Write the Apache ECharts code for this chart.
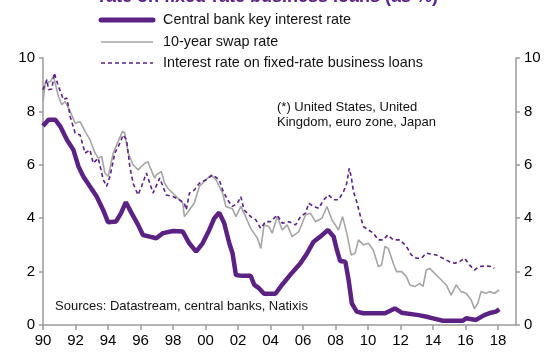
<!DOCTYPE html>
<html>
<head>
<meta charset="utf-8">
<script src="https://cdn.jsdelivr.net/npm/echarts@6/dist/echarts.min.js"></script>
<style>
html,body{margin:0;padding:0;background:#fff;}
#c{width:550px;height:353px;}
</style>
</head>
<body>
<div id="c"></div>
<script>
// Central bank key interest rate
const cbYears = [1990.0,1990.34,1990.75,1991.06,1991.47,1991.87,1992.18,1992.48,1992.89,1993.3,1993.7,1994.0,1994.5,1994.8,1995.1,1995.45,1995.85,1996.15,1996.56,1996.97,1997.38,1998.0,1998.6,1999.0,1999.42,1999.82,2000.23,2000.54,2000.84,2001.15,2001.46,2001.66,2001.87,2002.27,2002.78,2003.0,2003.3,2003.6,2004.3,2004.7,2005.2,2005.84,2006.25,2006.65,2007.06,2007.53,2007.88,2008.08,2008.28,2008.6,2008.8,2009.0,2009.3,2009.7,2011.04,2011.65,2012.06,2013.1,2013.6,2014.0,2014.6,2015.83,2016.03,2016.64,2017.15,2017.56,2017.87,2018.07];
const cbValues = [7.45,7.69,7.69,7.44,6.94,6.56,5.94,5.56,5.19,4.81,4.31,3.85,3.88,4.19,4.6,4.19,3.75,3.37,3.31,3.25,3.44,3.52,3.5,3.06,2.75,3.06,3.56,4.0,4.21,3.81,3.06,2.69,1.87,1.84,1.84,1.5,1.37,1.17,1.17,1.5,1.87,2.31,2.69,3.12,3.31,3.56,3.31,2.81,2.4,2.37,1.69,0.81,0.5,0.44,0.44,0.62,0.46,0.37,0.31,0.25,0.16,0.16,0.25,0.19,0.37,0.46,0.5,0.59];

// 10-year swap rate
const swapYears = [1990.0,1990.14,1990.45,1990.65,1990.95,1991.16,1991.36,1991.67,1991.98,1992.28,1992.59,1992.89,1993.2,1993.4,1993.61,1993.81,1994.01,1994.32,1994.62,1994.89,1995.03,1995.24,1995.54,1995.85,1996.26,1996.46,1996.56,1996.87,1996.97,1997.28,1997.48,1997.68,1998.2,1998.6,1998.7,1999.0,1999.3,1999.62,2000.03,2000.34,2000.64,2001.05,2001.25,2001.66,2001.87,2002.17,2002.37,2002.78,2003.19,2003.4,2003.6,2003.9,2004.1,2004.41,2004.72,2005.02,2005.33,2005.74,2006.15,2006.45,2006.76,2007.16,2007.47,2007.77,2008.18,2008.43,2008.69,2008.96,2009.2,2009.41,2009.71,2010.02,2010.32,2010.63,2010.83,2011.04,2011.24,2011.55,2011.75,2012.06,2012.36,2012.57,2012.87,2013.18,2013.38,2013.58,2013.79,2013.99,2014.4,2014.81,2015.11,2015.42,2015.72,2016.03,2016.34,2016.54,2016.75,2016.95,2017.26,2017.46,2017.77,2018.07];
const swapValues = [8.37,9.06,9.12,9.31,8.56,8.25,8.37,8.0,7.56,7.62,7.25,6.94,6.44,6.25,6.31,5.69,5.56,6.44,6.87,7.25,7.19,6.44,6.0,5.81,6.06,6.12,5.94,5.5,5.62,5.75,5.31,5.12,4.81,4.56,4.06,4.31,4.56,5.19,5.44,5.62,5.44,4.94,4.44,4.35,4.06,4.44,4.19,3.62,3.25,2.87,3.75,3.69,3.44,4.06,3.56,3.75,3.31,3.5,4.12,4.19,3.87,4.0,4.44,3.94,3.56,4.06,3.44,2.62,2.69,3.19,3.0,3.06,2.81,2.19,2.25,2.94,2.87,2.31,2.0,2.0,1.81,1.5,1.44,1.56,1.44,2.06,2.12,2.0,1.75,1.5,1.12,1.5,1.25,1.19,0.94,0.62,0.81,1.25,1.19,1.25,1.19,1.31];

// Interest rate on fixed-rate business loans
const loanYears = [1990.0,1990.24,1990.34,1990.55,1990.69,1990.95,1991.26,1991.47,1991.67,1991.98,1992.28,1992.59,1992.89,1993.09,1993.4,1993.71,1993.91,1994.12,1994.42,1994.73,1994.93,1995.14,1995.34,1995.54,1995.85,1996.06,1996.36,1996.77,1997.18,1997.58,1997.99,1998.4,1998.7,1998.81,1999.01,1999.32,1999.62,2000.03,2000.43,2000.84,2001.05,2001.35,2001.66,2001.96,2002.17,2002.37,2002.78,2003.09,2003.39,2003.7,2004.0,2004.41,2004.72,2005.13,2005.54,2005.84,2006.15,2006.35,2006.66,2006.96,2007.27,2007.57,2007.88,2008.18,2008.49,2008.69,2008.84,2008.96,2009.1,2009.3,2009.51,2009.71,2010.02,2010.32,2010.63,2010.94,2011.2,2011.55,2011.96,2012.36,2012.67,2012.97,2013.28,2013.58,2014.2,2014.6,2015.02,2015.32,2015.63,2015.93,2016.24,2016.54,2016.85,2017.25,2017.56,2017.77];
const loanValues = [8.81,9.19,8.81,8.84,9.44,8.94,8.44,8.5,7.81,7.19,7.12,6.44,6.56,6.06,6.25,5.44,5.19,5.56,6.44,6.81,7.12,6.94,5.94,5.31,4.87,5.19,5.69,4.94,5.5,4.87,4.81,4.69,4.56,4.31,4.94,5.06,5.31,5.44,5.62,5.44,5.06,4.69,4.44,4.56,4.81,4.31,4.06,3.94,3.62,3.87,3.87,4.12,3.81,3.87,3.75,4.06,4.19,4.56,4.44,4.37,4.69,4.87,4.69,4.69,5.0,5.31,5.87,5.56,5.0,4.62,4.12,3.69,3.56,3.44,3.19,3.19,3.37,3.19,3.19,2.94,2.62,2.5,2.5,2.69,2.62,2.5,2.37,2.31,2.37,2.5,2.25,2.06,2.19,2.21,2.19,2.12];

const seriesNames = ['Central bank key interest rate','10-year swap rate','Interest rate on fixed-rate business loans'];

const PURPLE = '#5B2183';
const GREY = '#A5A5A5';
const AXIS = '#9A9A9A';
const FONT = '"Liberation Sans", Arial, sans-serif';

const zip = (xs, ys) => xs.map((x, i) => [x, ys[i]]);

// legend (drawn as graphic so line icons carry no symbol)
const legendStyles = [
  {stroke: PURPLE, lineWidth: 5, lineCap: 'round'},
  {stroke: GREY, lineWidth: 1.6},
  {stroke: PURPLE, lineWidth: 1.6, lineDash: [4, 3]}
];
const legendRowsY = [20, 42, 63];
const legendGraphics = [];
seriesNames.forEach((name, i) => {
  legendGraphics.push({type: 'line', silent: true, shape: {x1: 101, y1: legendRowsY[i], x2: 153, y2: legendRowsY[i]}, style: legendStyles[i]});
  legendGraphics.push({type: 'text', silent: true, x: 163, y: legendRowsY[i] + 0.5, style: {text: name, fill: '#111', font: '14.4px ' + FONT, textVerticalAlign: 'middle', verticalAlign: 'middle'}});
});

const chart = echarts.init(document.getElementById('c'), null, {renderer: 'canvas'});
const yAxisBase = {
  type: 'value', min: 0, max: 10, interval: 2,
  axisLine: {show: true, lineStyle: {color: AXIS, width: 1.5}},
  axisTick: {show: true, length: 4, lineStyle: {color: AXIS, width: 1.5}},
  splitLine: {show: false},
  axisLabel: {color: '#000', fontSize: 15, fontFamily: FONT, margin: 8}
};
chart.setOption({
  animation: false,
  backgroundColor: '#fff',
  textStyle: {fontFamily: FONT},
  grid: {left: 43, right: 34, top: 58, bottom: 28, containLabel: false},
  graphic: [
    {type: 'text', left: 99, top: -12, style: {text: 'rate on fixed-rate business loans (as %)', fill: PURPLE, font: 'bold 18px ' + FONT}},
    {type: 'text', left: 277, top: 100, style: {text: '(*) United States, United\nKingdom, euro zone, Japan', fill: '#111', font: '13px ' + FONT, lineHeight: 15}},
    {type: 'text', left: 55, top: 300, style: {text: 'Sources: Datastream, central banks, Natixis', fill: '#111', font: '13px ' + FONT}}
  ].concat(legendGraphics),
  xAxis: {
    type: 'value', min: 1990, max: 2019.1, interval: 2,
    axisLine: {show: true, onZero: false, lineStyle: {color: AXIS, width: 1.5}},
    axisTick: {show: true, length: 5, lineStyle: {color: AXIS, width: 1.5}},
    splitLine: {show: false},
    axisLabel: {
      color: '#000', fontSize: 15, fontFamily: FONT, margin: 8, showMaxLabel: false,
      formatter: v => (Math.abs(v - Math.round(v)) < 1e-6 && Math.round(v) % 2 === 0) ? String(Math.round(v) % 100).padStart(2, '0') : ''
    }
  },
  yAxis: [
    Object.assign({}, yAxisBase, {position: 'left'}),
    Object.assign({}, yAxisBase, {position: 'right'})
  ],
  series: [
    {name: seriesNames[1], type: 'line', showSymbol: false, symbol: 'none', z: 2,
     lineStyle: {color: GREY, width: 1.6}, itemStyle: {color: GREY}, data: zip(swapYears, swapValues)},
    {name: seriesNames[2], type: 'line', showSymbol: false, symbol: 'none', z: 3,
     lineStyle: {color: PURPLE, width: 1.6, type: [4, 3]}, itemStyle: {color: PURPLE}, data: zip(loanYears, loanValues)},
    {name: seriesNames[0], type: 'line', showSymbol: false, symbol: 'none', z: 4,
     lineStyle: {color: PURPLE, width: 4.5}, itemStyle: {color: PURPLE}, data: zip(cbYears, cbValues)}
  ]
});
</script>
</body>
</html>
